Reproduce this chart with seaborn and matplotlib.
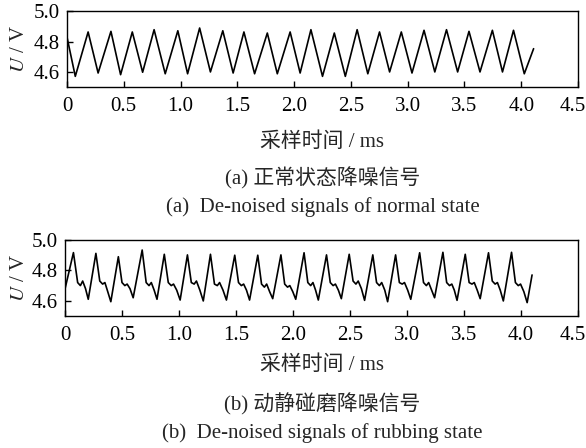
import matplotlib
matplotlib.use("Agg")
import matplotlib.pyplot as plt
import matplotlib.transforms as mtransforms
import numpy as np
import pandas as pd
import seaborn as sns

# ---------------- data ----------------
# (a) normal state: key points (start, trough/peak alternation, end), time in ms, voltage in V
normal_t = [0.000, 0.073, 0.186, 0.274, 0.387, 0.472, 0.575, 0.666, 0.767, 0.865,
            0.976, 1.062, 1.168, 1.263, 1.372, 1.463, 1.558, 1.652, 1.764, 1.852,
            1.965, 2.053, 2.148, 2.250, 2.354, 2.451, 2.555, 2.649, 2.752, 2.841,
            2.944, 3.038, 3.144, 3.239, 3.342, 3.440, 3.540, 3.637, 3.746, 3.835,
            3.932, 4.027, 4.109]
normal_v = [4.830, 4.572, 4.864, 4.594, 4.868, 4.583, 4.864, 4.599, 4.879, 4.589,
            4.872, 4.589, 4.890, 4.601, 4.872, 4.594, 4.864, 4.589, 4.857, 4.589,
            4.864, 4.594, 4.879, 4.572, 4.857, 4.572, 4.879, 4.589, 4.864, 4.601,
            4.864, 4.594, 4.875, 4.601, 4.879, 4.601, 4.868, 4.601, 4.875, 4.601,
            4.875, 4.589, 4.754]

# (b) rubbing state: start, then for each cycle peak, 4 shoulder points, trough; then end
rub_t = [0.000,
         0.074, 0.111, 0.135, 0.155, 0.180, 0.204,
         0.271, 0.305, 0.330, 0.350, 0.375, 0.402,
         0.468, 0.500, 0.525, 0.545, 0.570, 0.598,
         0.677, 0.712, 0.737, 0.757, 0.782, 0.807,
         0.871, 0.906, 0.932, 0.952, 0.980, 1.010,
         1.074, 1.108, 1.133, 1.153, 1.183, 1.213,
         1.276, 1.311, 1.336, 1.356, 1.386, 1.416,
         1.489, 1.522, 1.547, 1.567, 1.592, 1.619,
         1.691, 1.724, 1.749, 1.769, 1.795, 1.822,
         1.894, 1.927, 1.952, 1.972, 1.998, 2.024,
         2.097, 2.130, 2.155, 2.175, 2.198, 2.222,
         2.294, 2.327, 2.352, 2.372, 2.398, 2.424,
         2.493, 2.527, 2.552, 2.572, 2.600, 2.628,
         2.700, 2.733, 2.758, 2.778, 2.805, 2.830,
         2.900, 2.933, 2.958, 2.978, 3.006, 3.033,
         3.111, 3.145, 3.170, 3.190, 3.216, 3.242,
         3.315, 3.348, 3.373, 3.393, 3.415, 3.439,
         3.511, 3.545, 3.570, 3.590, 3.616, 3.642,
         3.715, 3.748, 3.773, 3.793, 3.818, 3.845,
         3.917, 3.951, 3.976, 3.996, 4.025, 4.054,
         4.097]
rub_v = [4.678,
         4.917, 4.72, 4.70, 4.73, 4.68, 4.610,
         4.912, 4.73, 4.71, 4.72, 4.66, 4.594,
         4.890, 4.72, 4.70, 4.71, 4.68, 4.620,
         4.934, 4.72, 4.70, 4.72, 4.67, 4.610,
         4.906, 4.72, 4.70, 4.71, 4.67, 4.605,
         4.902, 4.72, 4.71, 4.73, 4.67, 4.599,
         4.906, 4.71, 4.70, 4.72, 4.67, 4.605,
         4.900, 4.72, 4.70, 4.71, 4.67, 4.605,
         4.900, 4.71, 4.69, 4.71, 4.66, 4.614,
         4.902, 4.71, 4.69, 4.70, 4.66, 4.610,
         4.916, 4.72, 4.70, 4.72, 4.67, 4.605,
         4.902, 4.72, 4.70, 4.71, 4.67, 4.614,
         4.906, 4.73, 4.71, 4.73, 4.68, 4.603,
         4.902, 4.72, 4.70, 4.72, 4.67, 4.594,
         4.902, 4.72, 4.71, 4.72, 4.67, 4.610,
         4.916, 4.72, 4.70, 4.72, 4.67, 4.620,
         4.919, 4.72, 4.70, 4.71, 4.67, 4.603,
         4.906, 4.72, 4.71, 4.72, 4.67, 4.614,
         4.916, 4.73, 4.71, 4.72, 4.67, 4.599,
         4.919, 4.72, 4.70, 4.71, 4.66, 4.588,
         4.770]

x_ticks = [0, 0.5, 1.0, 1.5, 2.0, 2.5, 3.0, 3.5, 4.0, 4.5]
x_ticklabels = ["0", "0.5", "1.0", "1.5", "2.0", "2.5", "3.0", "3.5", "4.0", "4.5"]
y_ticks = [4.6, 4.8, 5.0]
y_ticklabels = ["4.6", "4.8", "5.0"]

x_label = "采样时间 / ms"
y_label = r"$U$ / V"
captions_a = ["(a) 正常状态降噪信号", "(a)  De-noised signals of normal state"]
captions_b = ["(b) 动静碰磨降噪信号", "(b)  De-noised signals of rubbing state"]

# ---------------- style ----------------
sns.set_theme(style="ticks")
plt.rcParams["font.family"] = ["Liberation Serif", "Noto Sans CJK SC"]
plt.rcParams["mathtext.fontset"] = "stix"
plt.rcParams["axes.unicode_minus"] = False

W, H = 586, 448
fig = plt.figure(figsize=(W / 100, H / 100), dpi=100)

FS = 15


def panel(ax, t, v, xlab_pad, ylab_x):
    df = pd.DataFrame({"t": t, "v": v})
    sns.lineplot(data=df, x="t", y="v", ax=ax, color="black", linewidth=1.2,
                 estimator=None, sort=False)
    ax.set_xlim(0, 4.5)
    ax.set_ylim(4.5, 5.0)
    ax.set_xticks(x_ticks)
    ax.set_xticklabels(x_ticklabels)
    ax.set_yticks(y_ticks)
    ax.set_yticklabels(y_ticklabels)
    ax.tick_params(direction="in", length=4, width=1, labelsize=FS, pad=5,
                   colors="black", top=False, right=False)
    ax.tick_params(axis="x", pad=7)
    for s in ax.spines.values():
        s.set_visible(True)
        s.set_linewidth(1.0)
        s.set_color("black")
    ax.set_xlabel(x_label, fontsize=FS, labelpad=xlab_pad)
    ax.set_ylabel(y_label, fontsize=FS)
    ax.yaxis.set_label_coords(ylab_x, 0.5)
    ax.yaxis.label.set_verticalalignment("center")
    ax.set_facecolor("white")
    # keep the last tick label inside the canvas
    last = ax.get_xticklabels()[-1]
    last.set_transform(last.get_transform() +
                       mtransforms.ScaledTranslation(-5 / 100, 0, fig.dpi_scale_trans))


# top panel (pixels: left 67, right 578, top 11, bottom 87)
ax1 = fig.add_axes([67 / W, 1 - 87.3 / H, (578 - 67) / W, 76 / H])
panel(ax1, normal_t, normal_v, 12, (19 - 67) / 511)

# bottom panel (pixels: left 65, right 578, top 240, bottom 316)
ax2 = fig.add_axes([65 / W, 1 - 316 / H, (578 - 65) / W, 76 / H])
panel(ax2, rub_t, rub_v, 8, (19 - 65) / 513)

cx = 322.5 / W
fig.text(cx, 1 - 178 / H, captions_a[0], ha="center", va="center", fontsize=FS)
fig.text(cx, 1 - 207 / H, captions_a[1], ha="center", va="center", fontsize=FS)
fig.text(cx, 1 - 404 / H, captions_b[0], ha="center", va="center", fontsize=FS)
fig.text(cx, 1 - 433 / H, captions_b[1], ha="center", va="center", fontsize=FS)

fig.savefig("out.png", dpi=100, facecolor="white")
